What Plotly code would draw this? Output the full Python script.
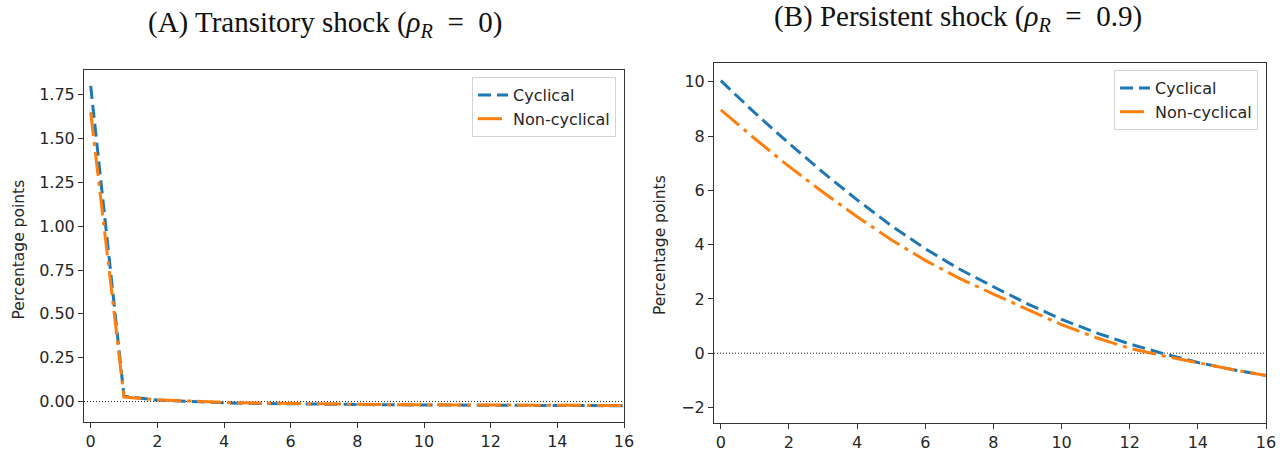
import plotly.graph_objects as go

W, H = 1284, 456

periods = list(range(17))

# Panel A: transitory shock
a_cyclical = [1.80, 0.030, 0.008, -0.002, -0.008, -0.011, -0.014, -0.016, -0.018,
              -0.019, -0.020, -0.021, -0.022, -0.022, -0.023, -0.023, -0.024]
a_noncyclical = [1.65, 0.025, 0.010, 0.001, -0.005, -0.009, -0.012, -0.014, -0.016,
                 -0.018, -0.019, -0.020, -0.021, -0.021, -0.022, -0.022, -0.023]

# Panel B: persistent shock
b_cyclical = [10.04, 8.85, 7.73, 6.66, 5.65, 4.70, 3.85, 3.10, 2.45,
              1.82, 1.25, 0.76, 0.34, -0.02, -0.34, -0.60, -0.82]
b_noncyclical = [8.96, 7.90, 6.88, 5.93, 5.03, 4.18, 3.42, 2.76, 2.18,
                 1.60, 1.05, 0.58, 0.18, -0.10, -0.36, -0.60, -0.82]

series_names = ["Cyclical", "Non-cyclical"]
titles = ["(A) Transitory shock (<i>ρ<sub>R</sub></i>&nbsp; = &nbsp;0)",
          "(B) Persistent shock (<i>ρ<sub>R</sub></i>&nbsp; = &nbsp;0.9)"]
ylabel = "Percentage points"

BLUE = "#1f77b4"
ORANGE = "#ff7f0e"
FONT = "DejaVu Sans"
TXT = "#262626"

fig = go.Figure()

def px_x(a, b):
    return [a / W, b / W]

def px_y(top, bottom):
    return [(H - bottom) / H, (H - top) / H]

panels = [
    dict(xa="x", ya="y", leg="legend", data=(a_cyclical, a_noncyclical)),
    dict(xa="x2", ya="y2", leg="legend2", data=(b_cyclical, b_noncyclical)),
]
for p in panels:
    cyc, non = p["data"]
    fig.add_trace(go.Scatter(x=periods, y=cyc, name=series_names[0], mode="lines",
                             line=dict(color=BLUE, width=3, dash="13px,6px"),
                             xaxis=p["xa"], yaxis=p["ya"], legend=p["leg"]))
    fig.add_trace(go.Scatter(x=periods, y=non, name=series_names[1], mode="lines",
                             line=dict(color=ORANGE, width=3, dash="24px,6px,4px,6px"),
                             xaxis=p["xa"], yaxis=p["ya"], legend=p["leg"]))

axis_common = dict(showgrid=False, zeroline=False, showline=True, mirror=True,
                   linecolor="#333333", linewidth=1, ticks="outside", ticklen=5,
                   tickcolor="#333333", tickfont=dict(family=FONT, size=16, color=TXT),
                   automargin=False)

fig.update_layout(
    width=W, height=H,
    margin=dict(l=0, r=0, t=0, b=0),
    paper_bgcolor="white", plot_bgcolor="white",
    showlegend=True,
    xaxis=dict(domain=px_x(84, 624), range=[-0.2, 16], tickmode="linear", tick0=0, dtick=2,
               anchor="y", **axis_common),
    yaxis=dict(domain=px_y(70, 422), range=[-0.117, 1.891], tickmode="linear", tick0=0,
               dtick=0.25, tickformat=".2f", anchor="x", **axis_common),
    xaxis2=dict(domain=px_x(714, 1266), range=[-0.2, 16], tickmode="linear", tick0=0, dtick=2,
                anchor="y2", **axis_common),
    yaxis2=dict(domain=px_y(63, 423), range=[-2.57, 10.69], tickmode="linear", tick0=-2,
                dtick=2, anchor="x2", **axis_common),
    legend=dict(x=616 / W, y=(H - 77) / H, xanchor="right", yanchor="top",
                bgcolor="rgba(255,255,255,0.9)", bordercolor="#d3d3d3", borderwidth=1,
                font=dict(family=FONT, size=16, color=TXT), tracegroupgap=0),
    legend2=dict(x=1258 / W, y=(H - 70) / H, xanchor="right", yanchor="top",
                 bgcolor="rgba(255,255,255,0.9)", bordercolor="#d3d3d3", borderwidth=1,
                 font=dict(family=FONT, size=16, color=TXT), tracegroupgap=0),
)

# zero reference lines
for xr, yr in (("x domain", "y"), ("x2 domain", "y2")):
    fig.add_shape(type="line", xref=xr, yref=yr, x0=0, x1=1, y0=0, y1=0,
                  line=dict(color="#222222", width=1, dash="1px,2px"), layer="below")

# titles
fig.add_annotation(text=titles[0], x=325 / W, y=(H - 24) / H, xref="paper", yref="paper",
                   showarrow=False, xanchor="center", yanchor="middle",
                   font=dict(family="Liberation Serif", size=29, color="#111111"))
fig.add_annotation(text=titles[1], x=958 / W, y=(H - 18) / H, xref="paper", yref="paper",
                   showarrow=False, xanchor="center", yanchor="middle",
                   font=dict(family="Liberation Serif", size=29, color="#111111"))

# y axis labels
fig.add_annotation(text=ylabel, x=18.5 / W, y=(H - 250) / H, xref="paper", yref="paper",
                   showarrow=False, textangle=-90, xanchor="center", yanchor="middle",
                   font=dict(family=FONT, size=15.5, color=TXT))
fig.add_annotation(text=ylabel, x=660 / W, y=(H - 245) / H, xref="paper", yref="paper",
                   showarrow=False, textangle=-90, xanchor="center", yanchor="middle",
                   font=dict(family=FONT, size=15.5, color=TXT))

fig.write_html("out.html")
